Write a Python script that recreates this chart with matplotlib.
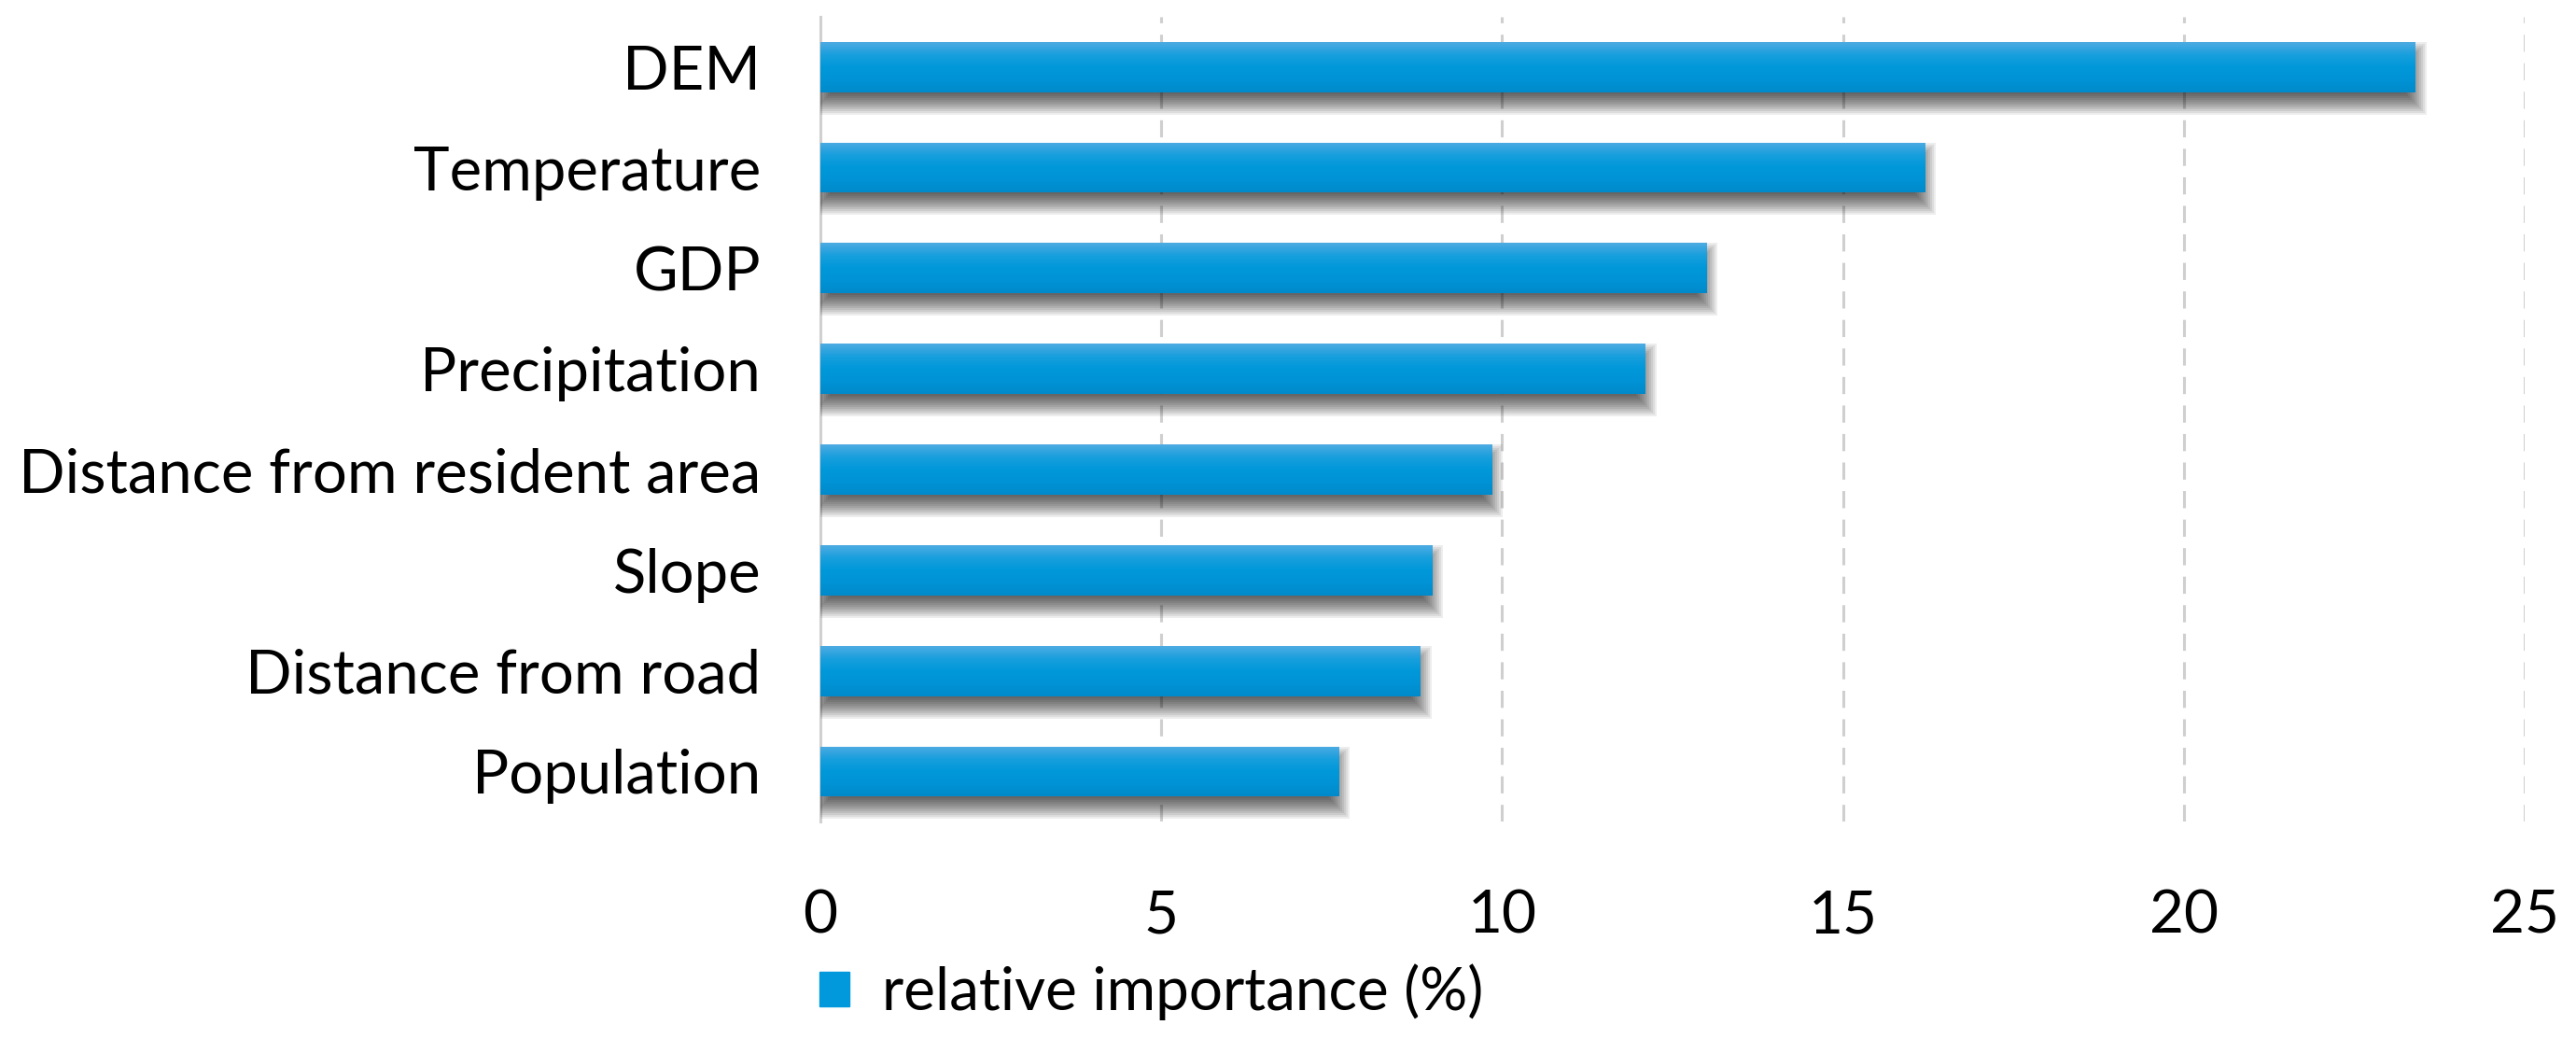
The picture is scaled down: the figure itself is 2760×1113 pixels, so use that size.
import numpy as np
import matplotlib
matplotlib.use("Agg")
from matplotlib import pyplot as plt
from matplotlib.patches import Patch, Rectangle

# data
factors = ["DEM", "Temperature", "GDP", "Precipitation",
           "Distance from resident area", "Slope", "Distance from road", "Population"]
importance = [23.4, 16.2, 13.0, 12.1, 9.85, 8.97, 8.8, 7.6]
xticks = [0, 5, 10, 15, 20, 25]

plt.rcParams["font.family"] = ["Lato", "DejaVu Sans"]

fig = plt.figure(figsize=(27.6, 11.13), dpi=100)
ax = fig.add_axes([0.3185, 0.209, 0.6615, 0.775])

ypos = np.arange(len(factors))
h = 0.5

ax.set_xlim(0, 25)
ax.set_ylim(7.5, -0.5)

# pixel -> data helpers for the soft shadow
px_x = 25 / (0.6615 * 2760)
px_y = 8 / (0.775 * 1113)

bars = ax.barh(ypos, importance, height=h, color="#0096d8", zorder=3)
grad = np.linspace(0, 1, 60).reshape(-1, 1)
cmap = matplotlib.colors.LinearSegmentedColormap.from_list(
    "barg", ["#4eabe2", "#189fdd", "#0098da", "#0093d5", "#008acb"])
for b in bars:
    x0, y0 = b.get_x(), b.get_y()
    w, hh = b.get_width(), b.get_height()
    # blurred drop shadow: stacked, expanding translucent boxes
    for e in range(-10, 14, 2):
        dx, dy = 0, 12 * px_y
        ax.add_patch(Rectangle((x0 + dx - e * px_x, y0 + dy - e * px_y),
                               w + 2 * e * px_x, hh + 2 * e * px_y,
                               color="k", alpha=0.07, lw=0, zorder=2))
    im = ax.imshow(grad, extent=(x0, x0 + w, y0 + hh, y0), aspect="auto",
                   cmap=cmap, zorder=4, interpolation="bilinear")
    im.set_clip_path(b)

ax.set_xlim(0, 25)
ax.set_ylim(7.5, -0.5)
ax.set_yticks(ypos)
ax.set_yticklabels(factors, fontsize=47)
ax.set_xticks(xticks)
ax.set_xticklabels([str(t) for t in xticks], fontsize=46)
ax.tick_params(axis="both", length=0)
ax.tick_params(axis="y", pad=46)
ax.tick_params(axis="x", pad=52)

for t in xticks[1:]:
    ax.axvline(t, color="#cfcfcf", lw=2.2, ls=(0, (6, 4)), zorder=1)
for s in ["top", "right", "bottom"]:
    ax.spines[s].set_visible(False)
ax.spines["left"].set_color("#d0d0d0")
ax.spines["left"].set_linewidth(2.2)
ax.spines["left"].set_zorder(1)

fig.legend(handles=[Patch(color="#0199dc", label="relative importance (%)")],
           loc="center left", bbox_to_anchor=(0.318, 0.045), frameon=False,
           borderaxespad=0, borderpad=0,
           fontsize=46, handlelength=0.5, handleheight=0.5, handletextpad=0.55)

fig.savefig("out.png", dpi=100)
